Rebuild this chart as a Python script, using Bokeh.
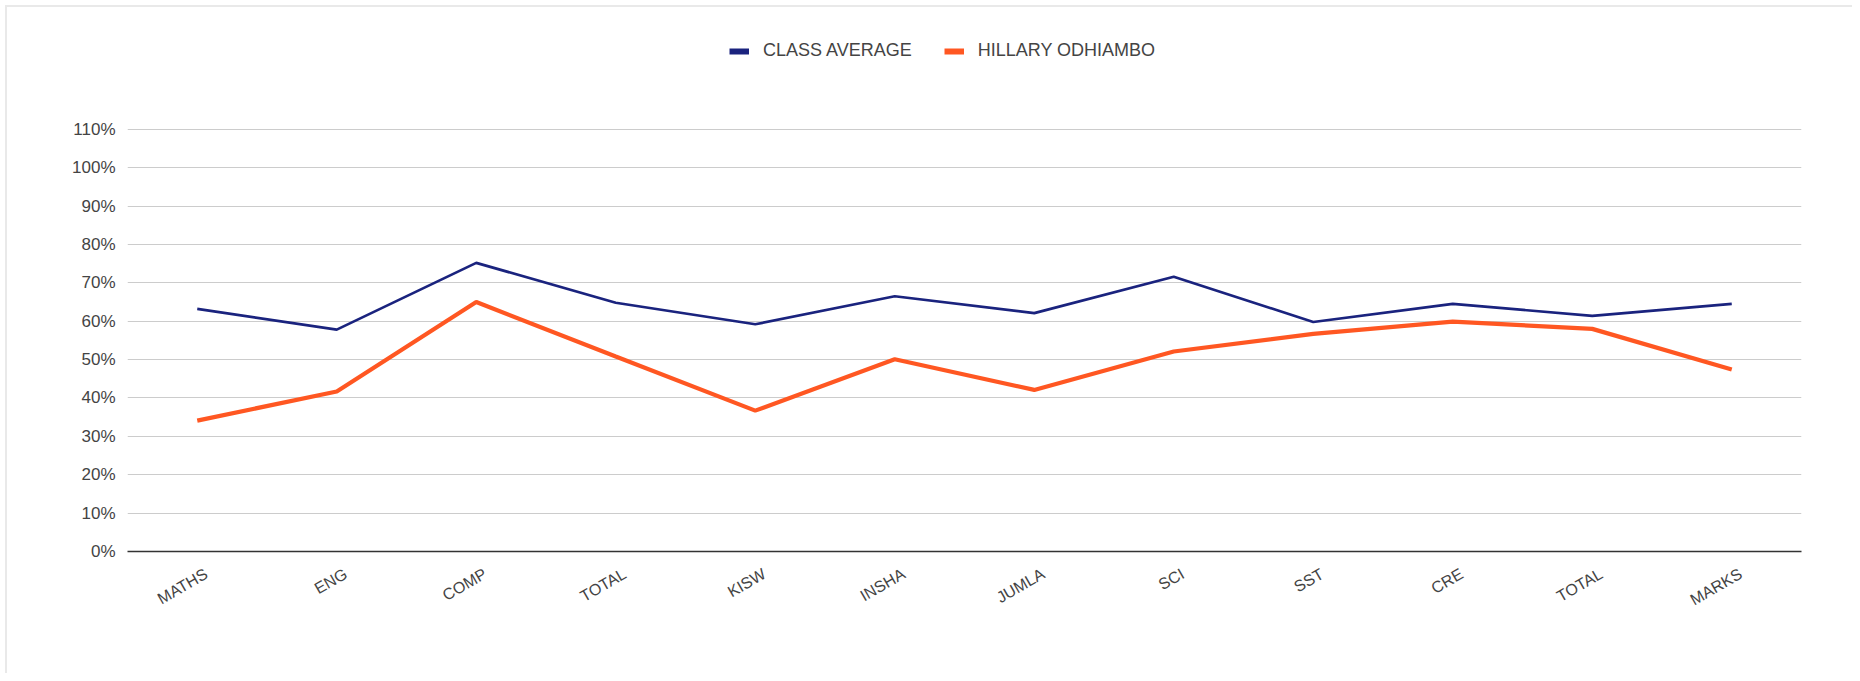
import math
from bokeh.plotting import figure
from bokeh.models import (Range1d, FixedTicker, NumeralTickFormatter, Legend, LegendItem)
from bokeh.embed import file_html
from bokeh.resources import INLINE

subjects = ["MATHS", "ENG", "COMP", "TOTAL", "KISW", "INSHA", "JUMLA",
            "SCI", "SST", "CRE", "TOTAL", "MARKS"]
class_average = [0.632, 0.578, 0.752, 0.648, 0.592, 0.665, 0.621,
                 0.716, 0.598, 0.645, 0.614, 0.645]
hillary = [0.341, 0.417, 0.650, 0.508, 0.367, 0.501, 0.421,
           0.521, 0.567, 0.599, 0.580, 0.474]
series_names = ["CLASS AVERAGE", "HILLARY ODHIAMBO"]
y_ticks = [0.0, 0.1, 0.2, 0.3, 0.4, 0.5, 0.6, 0.7, 0.8, 0.9, 1.0, 1.1]

NAVY = "#1a237e"
ORANGE = "#ff5722"
TEXT = "#444444"
FONT = "Liberation Sans"
LABEL_SHIFT = 0.065  # horizontal nudge of rotated category labels

xs = list(range(len(subjects)))
nan_swatch = [float("nan")] * len(xs)  # legend-only renderers draw nothing

W, H = 1852, 673
chart_border = {
    "background-image": "linear-gradient(#e9e9e9, #e9e9e9), linear-gradient(#e9e9e9, #e9e9e9)",
    "background-size": "100% 2px, 2px 100%",
    "background-position": "5px 5px, 5px 5px",
    "background-repeat": "no-repeat",
}
p = figure(width=W, height=H, output_backend="svg", toolbar_location=None,
           x_range=Range1d(-0.5, len(subjects) - 0.5), y_range=Range1d(0, 1.36),
           min_border_left=127, min_border_right=W - 1801, min_border_top=29,
           min_border_bottom=H - 551, styles=chart_border)
p.outline_line_color = None
p.background_fill_alpha = 0
p.border_fill_alpha = 0

l1 = p.line(xs, class_average, line_color=NAVY, line_width=2.7)
l2 = p.line(xs, hillary, line_color=ORANGE, line_width=4.2)

# legend swatches
s1 = p.line(xs, nan_swatch, line_color=NAVY, line_width=6)
s2 = p.line(xs, nan_swatch, line_color=ORANGE, line_width=6)

# axes
label_ticks = [x + LABEL_SHIFT for x in xs]
xa = p.xaxis[0]
xa.ticker = FixedTicker(ticks=label_ticks)
xa.major_label_overrides = {t: s for t, s in zip(label_ticks, subjects)}
xa.major_label_orientation = math.pi / 6
xa.major_tick_line_color = None
xa.minor_tick_line_color = None
xa.axis_line_color = "#333333"
xa.axis_line_width = 1.6
xa.major_label_text_font = FONT
xa.major_label_text_font_size = "16px"
xa.major_label_text_color = TEXT
xa.major_label_standoff = 15

ya = p.yaxis[0]
ya.ticker = FixedTicker(ticks=y_ticks)
ya.formatter = NumeralTickFormatter(format="0%")
ya.axis_line_color = None
ya.major_tick_line_color = None
ya.minor_tick_line_color = None
ya.major_label_text_font = FONT
ya.major_label_text_font_size = "17px"
ya.major_label_text_color = TEXT
ya.major_label_standoff = 6

p.xgrid.grid_line_color = None
p.ygrid.grid_line_color = "#cccccc"
p.ygrid.grid_line_width = 1.2

legend = Legend(items=[LegendItem(label=series_names[0], renderers=[s1]),
                       LegendItem(label=series_names[1], renderers=[s2])],
                orientation="horizontal", location=(602, 490),
                padding=0, margin=0, spacing=32, label_standoff=14,
                glyph_width=20, glyph_height=20, label_height=20,
                border_line_color=None, background_fill_alpha=0,
                label_text_font=FONT, label_text_font_size="18px",
                label_text_color=TEXT)
p.add_layout(legend, "center")

open("out.html", "w").write(file_html(p, INLINE))
